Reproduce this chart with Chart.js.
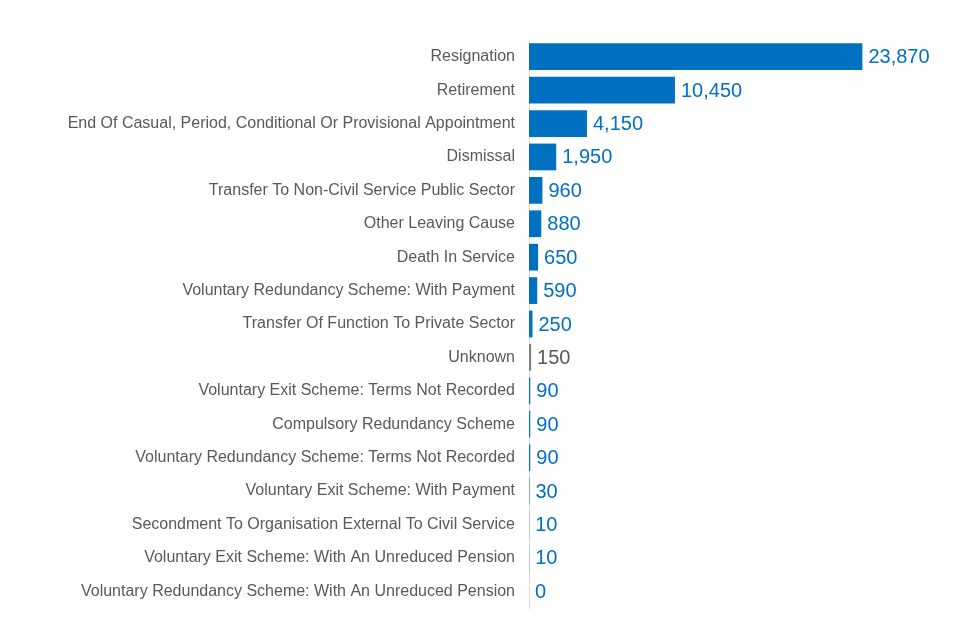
<!DOCTYPE html>
<html>
<head>
<meta charset="utf-8">
<script src="https://cdn.jsdelivr.net/npm/chart.js@4/dist/chart.umd.min.js"></script>
<style>
  html, body { margin: 0; padding: 0; background: #fff; }
  #wrap { width: 960px; height: 640px; }
</style>
</head>
<body>
<div id="wrap"><canvas id="myChart"></canvas></div>
<script>
const categories = [
    "Resignation",
    "Retirement",
    "End Of Casual, Period, Conditional Or Provisional Appointment",
    "Dismissal",
    "Transfer To Non-Civil Service Public Sector",
    "Other Leaving Cause",
    "Death In Service",
    "Voluntary Redundancy Scheme: With Payment",
    "Transfer Of Function To Private Sector",
    "Unknown",
    "Voluntary Exit Scheme: Terms Not Recorded",
    "Compulsory Redundancy Scheme",
    "Voluntary Redundancy Scheme: Terms Not Recorded",
    "Voluntary Exit Scheme: With Payment",
    "Secondment To Organisation External To Civil Service",
    "Voluntary Exit Scheme: With An Unreduced Pension",
    "Voluntary Redundancy Scheme: With An Unreduced Pension"
];
const leavers = [23870, 10450, 4150, 1950, 960, 880, 650, 590, 250, 150, 90, 90, 90, 30, 10, 10, 0];

const blue = "#0070C0";
const grey = "#7F7F7F";
const barColors = categories.map(c => c === "Unknown" ? grey : blue);
const labelColors = categories.map(c => c === "Unknown" ? "#595959" : blue);

// value labels at the end of each bar
const valueLabels = {
    id: "valueLabels",
    afterDatasetsDraw(chart) {
        const ctx = chart.ctx;
        const meta = chart.getDatasetMeta(0);
        ctx.save();
        ctx.font = "20px 'Liberation Sans', Arial, sans-serif";
        ctx.textBaseline = "middle";
        ctx.textAlign = "left";
        meta.data.forEach((bar, i) => {
            ctx.fillStyle = labelColors[i];
            ctx.fillText(leavers[i].toLocaleString("en-GB"), bar.x + 6, bar.y + 1);
        });
        ctx.restore();
    }
};

const ctx = document.getElementById("myChart");
new Chart(ctx, {
    type: "bar",
    data: {
        labels: categories,
        datasets: [{
            data: leavers,
            backgroundColor: barColors,
            categoryPercentage: 1.0,
            barPercentage: 0.8
        }]
    },
    options: {
        indexAxis: "y",
        responsive: true,
        maintainAspectRatio: false,
        animation: false,
        layout: { padding: { top: 40, bottom: 32, right: 12, left: 0 } },
        scales: {
            x: {
                display: false,
                min: 0,
                max: 30000
            },
            y: {
                grid: { display: false, drawTicks: false },
                border: { display: true, color: "#D9D9D9", width: 1 },
                ticks: {
                    color: "#595959",
                    padding: 14,
                    font: { family: "'Liberation Sans', Arial, sans-serif", size: 16 }
                },
                afterFit(scale) { scale.width = 529; }
            }
        },
        plugins: {
            legend: { display: false },
            tooltip: { enabled: false }
        }
    },
    plugins: [valueLabels]
});
</script>
</body>
</html>
